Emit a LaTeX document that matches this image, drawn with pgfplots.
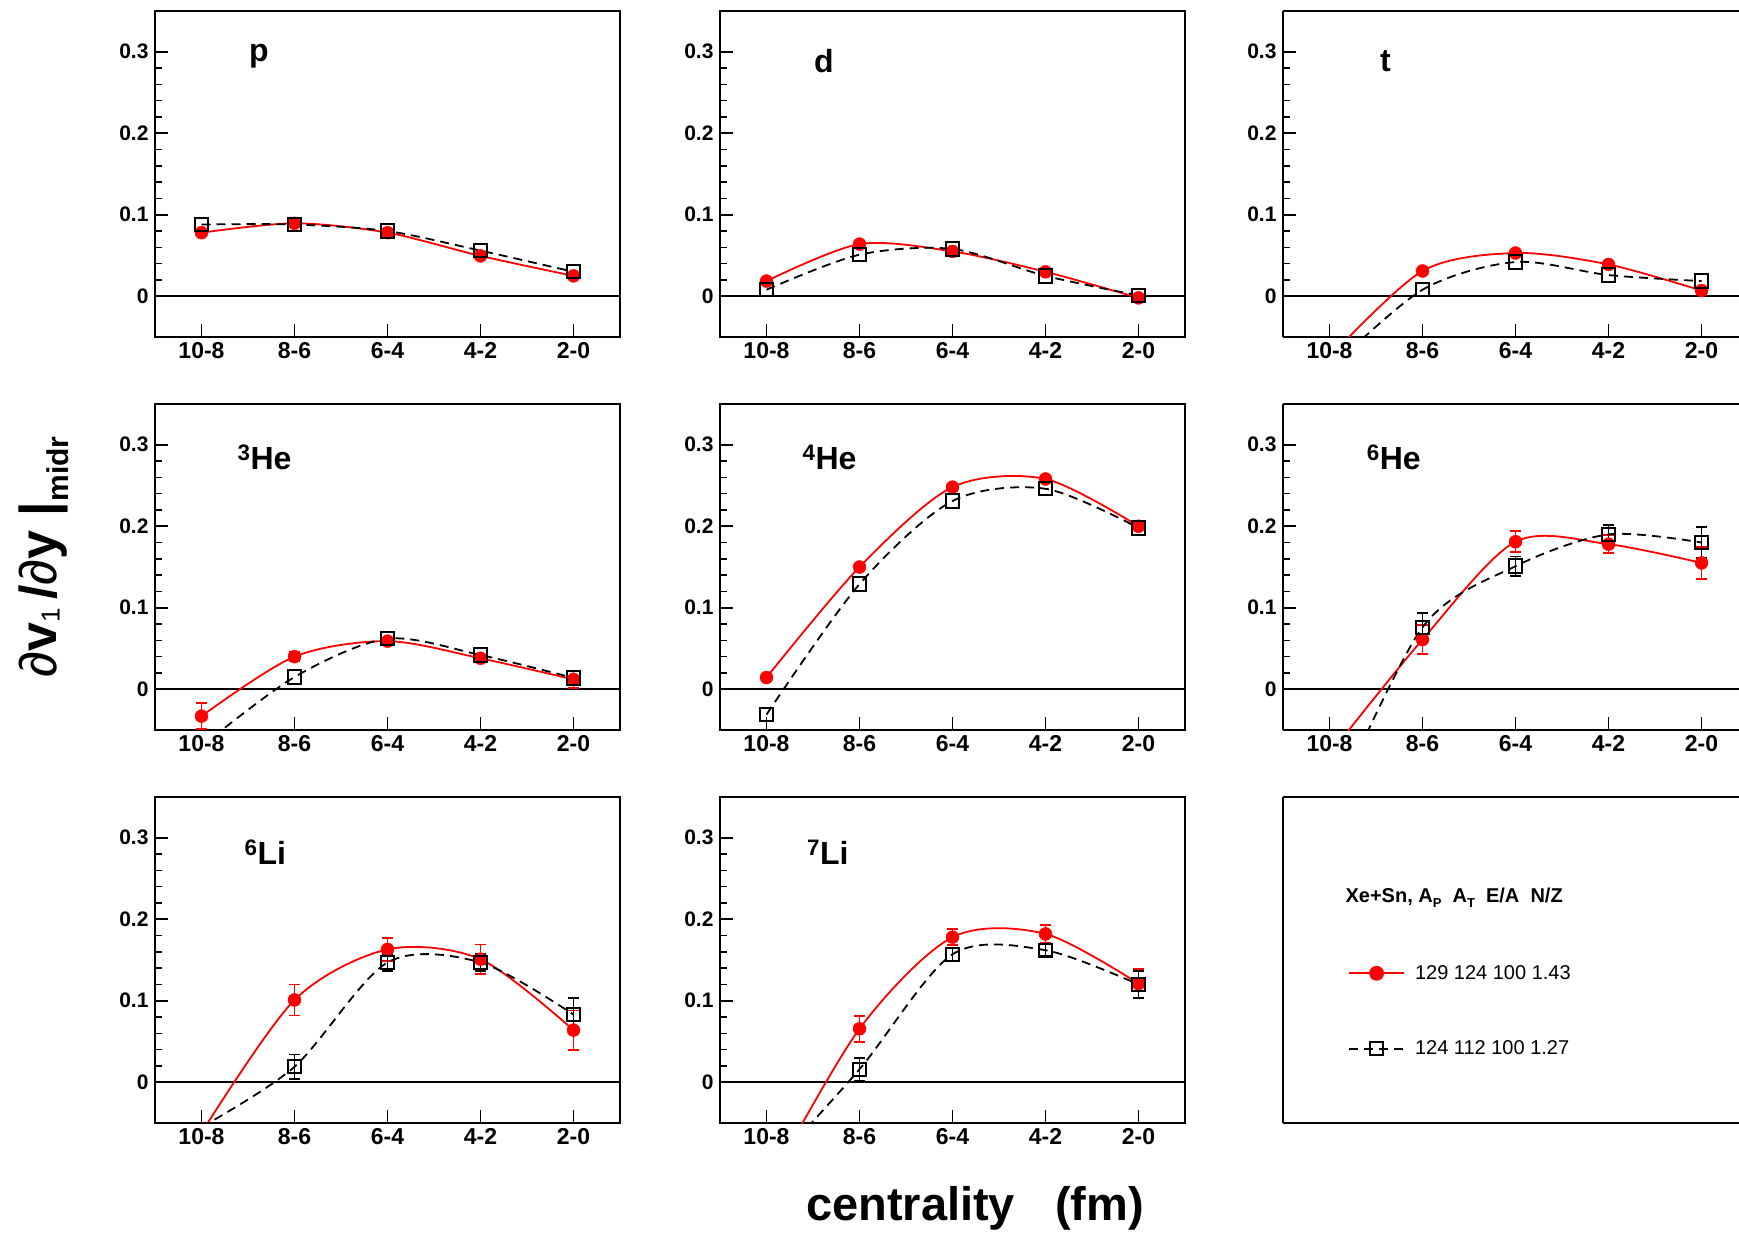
\documentclass[border=0pt]{standalone}
\usepackage{fontspec}
\setmainfont{Liberation Sans}
\usepackage{pgfplots}
\pgfplotsset{compat=1.18}
\definecolor{rootred}{RGB}{255,0,0}
\tikzset{plab/.style={anchor=base west, font=\fontsize{32}{32}\selectfont\bfseries}}
\pgfplotsset{
  panel/.style={
    width=465pt, height=326pt, scale only axis,
    xmin=-0.5, xmax=4.5, ymin=-0.05, ymax=0.35,
    axis line style={line width=2pt},
    xtick={0,1,2,3,4}, xticklabels={10-8,8-6,6-4,4-2,2-0},
    ytick={0,0.1,0.2,0.3},
    minor y tick num=4,
    tick align=inside,
    xtick pos=left, ytick pos=left,
    major tick length=13pt, minor tick length=7pt,
    tick style={line width=1.6pt, black},
    yticklabel style={font=\fontsize{21}{21}\selectfont\bfseries, xshift=-3pt, /pgf/number format/fixed},
    xticklabel style={font=\fontsize{23}{23}\selectfont\bfseries, yshift=-2pt},
    /pgf/number format/assume math mode=true,
    extra y ticks={0}, extra y tick labels={},
    extra y tick style={grid=major, major grid style={black, line width=1.6pt}},
  },
  rightcol/.style={width=456pt, xmax=4.403,
    axis x line*=box, axis y line*=left, y axis line style={-}},
  red curve/.style={rootred, line width=1.8pt, smooth, no marks},
  black curve/.style={black, line width=1.8pt, dash pattern=on 9pt off 6pt, smooth, no marks},
  red pts/.style={only marks, mark=*, mark size=6.5pt, rootred, mark options={solid, fill=rootred, draw=rootred}},
  black pts/.style={only marks, mark=square, mark size=6.7pt, black, mark options={solid, line width=2pt}},
  red err/.style={error bars/.cd, y dir=both, y explicit,
    error bar style={line width=1.8pt, rootred, solid},
    error mark options={rotate=90, rootred, mark size=5.5pt, line width=1.8pt}},
  black err/.style={error bars/.cd, y dir=both, y explicit,
    error bar style={line width=1.8pt, black, solid},
    error mark options={rotate=90, black, mark size=5.5pt, line width=1.8pt}},
}
\begin{document}
\begin{tikzpicture}
\useasboundingbox (0pt,0pt) rectangle (1739pt,-1233pt);

% ---------- p ----------
\begin{axis}[panel, at={(155pt,-11pt)}, anchor=north west]
\addplot[red curve] coordinates {(0,0.078) (1,0.0895) (2,0.078) (3,0.0495) (4,0.025)};
\addplot[red pts] coordinates {(0,0.078) (1,0.0895) (2,0.078) (3,0.0495) (4,0.025)};
\addplot[black curve] coordinates {(0,0.088) (1,0.088) (2,0.080) (3,0.056) (4,0.030)};
\addplot[black pts] coordinates {(0,0.088) (1,0.088) (2,0.080) (3,0.056) (4,0.030)};
\node[plab] at (rel axis cs:0.195,0.845) {p};
\end{axis}

% ---------- d ----------
\begin{axis}[panel, at={(720pt,-11pt)}, anchor=north west]
\addplot[red curve] coordinates {(0,0.0186) (1,0.064) (2,0.055) (3,0.030) (4,-0.002)};
\addplot[red pts] coordinates {(0,0.0186) (1,0.064) (2,0.055) (3,0.030) (4,-0.002)};
\addplot[black curve] coordinates {(0,0.008) (1,0.051) (2,0.058) (3,0.025) (4,0.001)};
\addplot[black pts] coordinates {(0,0.008) (1,0.051) (2,0.058) (3,0.025) (4,0.001)};
\node[plab] at (rel axis cs:0.195,0.81) {d};
\end{axis}

% ---------- t ----------
\begin{axis}[panel, rightcol, at={(1283pt,-11pt)}, anchor=north west]
\addplot[red curve] coordinates {(0,-0.075) (1,0.031) (2,0.053) (3,0.039) (4,0.007)};
\addplot[red pts] coordinates {(1,0.031) (2,0.053) (3,0.039) (4,0.007)};
\addplot[black curve] coordinates {(0,-0.09) (1,0.008) (2,0.042) (3,0.026) (4,0.0186)};
\addplot[black pts] coordinates {(1,0.008) (2,0.042) (3,0.026) (4,0.0186)};
\node[plab] at (rel axis cs:0.205,0.813) {t};
\end{axis}

% ---------- 3He ----------
\begin{axis}[panel, at={(155pt,-404pt)}, anchor=north west]
\addplot[red curve] coordinates {(0,-0.033) (1,0.040) (2,0.059) (3,0.038) (4,0.012)};
\addplot[red pts, red err] coordinates {(0,-0.033) +- (0,0.016) (1,0.040) +- (0,0.006) (2,0.059) +- (0,0.004) (3,0.038) +- (0,0.004) (4,0.012) +- (0,0.010)};
\addplot[black curve] coordinates {(0,-0.07) (1,0.015) (2,0.062) (3,0.042) (4,0.014)};
\addplot[black pts] coordinates {(1,0.015) (2,0.062) (3,0.042) (4,0.014)};
\node[plab] at (rel axis cs:0.17,0.798) {\textsuperscript{3}He};
\end{axis}

% ---------- 4He ----------
\begin{axis}[panel, at={(720pt,-404pt)}, anchor=north west]
\addplot[red curve] coordinates {(0,0.0144) (1,0.150) (2,0.248) (3,0.258) (4,0.200)};
\addplot[red pts] coordinates {(0,0.0144) (1,0.150) (2,0.248) (3,0.258) (4,0.200)};
\addplot[black curve] coordinates {(0,-0.031) (1,0.129) (2,0.231) (3,0.246) (4,0.198)};
\addplot[black pts] coordinates {(0,-0.031) (1,0.129) (2,0.231) (3,0.246) (4,0.198)};
\node[plab] at (rel axis cs:0.17,0.798) {\textsuperscript{4}He};
\end{axis}

% ---------- 6He ----------
\begin{axis}[panel, rightcol, at={(1283pt,-404pt)}, anchor=north west]
\addplot[red curve] coordinates {(0,-0.08) (1,0.061) (2,0.181) (3,0.178) (4,0.155)};
\addplot[red pts, red err] coordinates {(1,0.061) +- (0,0.018) (2,0.181) +- (0,0.013) (3,0.178) +- (0,0.011) (4,0.155) +- (0,0.020)};
\addplot[black curve] coordinates {(0,-0.155) (1,0.076) (2,0.151) (3,0.190) (4,0.180)};
\addplot[black pts, black err] coordinates {(1,0.076) +- (0,0.018) (2,0.151) +- (0,0.012) (3,0.190) +- (0,0.012) (4,0.180) +- (0,0.019)};
\node[plab] at (rel axis cs:0.176,0.798) {\textsuperscript{6}He};
\end{axis}

% ---------- 6Li ----------
\begin{axis}[panel, at={(155pt,-797pt)}, anchor=north west]
\addplot[red curve] coordinates {(0,-0.062) (1,0.101) (2,0.163) (3,0.151) (4,0.064)};
\addplot[red pts, red err] coordinates {(1,0.101) +- (0,0.019) (2,0.163) +- (0,0.014) (3,0.151) +- (0,0.018) (4,0.064) +- (0,0.024)};
\addplot[black curve] coordinates {(0,-0.055) (1,0.019) (2,0.147) (3,0.147) (4,0.083)};
\addplot[black pts, black err] coordinates {(1,0.019) +- (0,0.015) (2,0.147) +- (0,0.010) (3,0.147) +- (0,0.010) (4,0.083) +- (0,0.020)};
\node[plab] at (rel axis cs:0.185,0.792) {\textsuperscript{6}Li};
\end{axis}

% ---------- 7Li ----------
\begin{axis}[panel, at={(720pt,-797pt)}, anchor=north west]
\addplot[red curve] coordinates {(0,-0.13) (1,0.0656) (2,0.178) (3,0.182) (4,0.121)};
\addplot[red pts, red err] coordinates {(1,0.0656) +- (0,0.016) (2,0.178) +- (0,0.010) (3,0.182) +- (0,0.011) (4,0.121) +- (0,0.018)};
\addplot[black curve] coordinates {(0,-0.11) (1,0.016) (2,0.157) (3,0.162) (4,0.120)};
\addplot[black pts, black err] coordinates {(1,0.016) +- (0,0.014) (2,0.157) +- (0,0.008) (3,0.162) +- (0,0.007) (4,0.120) +- (0,0.017)};
\node[plab] at (rel axis cs:0.18,0.792) {\textsuperscript{7}Li};
\end{axis}

% ---------- legend panel ----------
\begin{axis}[at={(1283pt,-797pt)}, anchor=north west,
  width=456pt, height=326pt, scale only axis,
  xmin=0, xmax=456, ymin=0, ymax=326,
  xtick=\empty, ytick=\empty,
  axis x line*=box, axis y line*=left, y axis line style={-},
  axis line style={line width=2pt},
  legend cell align=left,
  legend image code/.code={\draw[mark repeat=2, mark phase=2, #1] plot coordinates {(0pt,0pt) (27.5pt,0pt) (55pt,0pt)};},
  legend style={at={(axis cs:65,112)}, anchor=west, draw=none, fill=none,
    inner sep=0pt, row sep=60pt, font=\fontsize{20}{20}\selectfont,
    nodes={inner sep=0pt},
    /tikz/every odd column/.append style={column sep=10pt}},
]
\addlegendimage{rootred, line width=1.8pt, mark=*, mark size=6.5pt, mark options={solid, fill=rootred}}
\addlegendentry{129 124 100 1.43}
\addlegendimage{black, line width=1.8pt, dash pattern=on 9pt off 6pt, mark=square, mark size=6.7pt, mark options={solid, line width=2pt}}
\addlegendentry{124 112 100 1.27}
\node[anchor=base west, font=\fontsize{20}{20}\selectfont\bfseries] at (axis cs:59,221)
  {Xe+Sn, A\raisebox{-0.5ex}{\fontsize{13}{13}\selectfont P}\ \ A\raisebox{-0.5ex}{\fontsize{13}{13}\selectfont T}\ \ E/A\ \ N/Z};
\end{axis}

% ---------- axis titles ----------
\node[rotate=90, anchor=center] at (44pt,-557pt)
  {\fontsize{52}{52}\selectfont ∂\textbf{v}\raisebox{-3pt}{\fontsize{26}{26}\selectfont 1}\,\textbf{/}∂\textbf{y}\ \textbf{|}\raisebox{-12pt}{\fontsize{30}{30}\selectfont\bfseries midr}};
\node[anchor=base, font=\fontsize{47}{47}\selectfont\bfseries] at (975pt,-1220pt) {centrality\hspace{40pt}(fm)};
\end{tikzpicture}
\end{document}
